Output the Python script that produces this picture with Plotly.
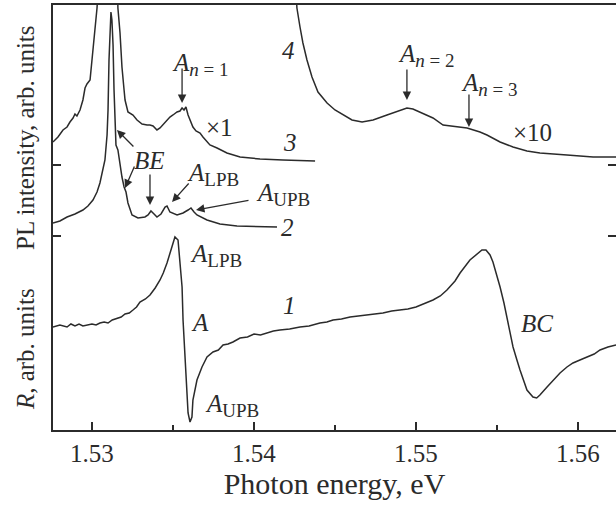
import plotly.graph_objects as go

# Photon energy (eV) and intensity (arb. units, all curves on one offset scale)
r_energy = [1.52759, 1.52802, 1.52846, 1.52870, 1.52895, 1.52920, 1.52944, 1.52975, 1.53000,
            1.53025, 1.53049, 1.53075, 1.53099, 1.53125, 1.53154, 1.53180, 1.53204, 1.53230,
            1.53253, 1.53275, 1.53296, 1.53330, 1.53358, 1.53390, 1.53420, 1.53440, 1.53463,
            1.53494, 1.53512, 1.53531, 1.53543, 1.53556, 1.53562, 1.53574, 1.53586, 1.53593,
            1.53605, 1.53617, 1.53623, 1.53648, 1.53679, 1.53710, 1.53747, 1.53780, 1.53809,
            1.53840, 1.53870, 1.53914, 1.53960, 1.54000, 1.54040, 1.54080, 1.54120, 1.54160,
            1.54220, 1.54284, 1.54340, 1.54407, 1.54450, 1.54488, 1.54540, 1.54593, 1.54650,
            1.54698, 1.54750, 1.54796, 1.54850, 1.54901, 1.54950, 1.55000, 1.55050, 1.55105,
            1.55150, 1.55191, 1.55241, 1.55272, 1.55333, 1.55377, 1.55407, 1.55432, 1.55457,
            1.55475, 1.55500, 1.55519, 1.55543, 1.55562, 1.55599, 1.55623, 1.55642, 1.55685,
            1.55722, 1.55745, 1.55765, 1.55809, 1.55846, 1.55889, 1.55932, 1.55969, 1.56012,
            1.56056, 1.56100, 1.56136, 1.56185, 1.56235]
r_signal = [103, 105, 103, 106, 104, 106, 104, 105, 106,
            105, 107, 108, 107, 110, 112, 113, 116, 117,
            120, 123, 128, 131, 135, 142, 150, 157, 167,
            183, 193, 190, 170, 143, 110, 77, 43, 17,
            8, 13, 30, 50, 63, 73, 78, 80, 85,
            86, 88, 92, 93, 96, 95, 97, 99, 100,
            101, 103, 104, 107, 108, 110, 111, 113, 114,
            115, 116, 117, 119, 120, 121, 123, 126, 130,
            134, 140, 149, 157, 170, 176, 180, 180, 175,
            168, 155, 143, 127, 113, 83, 70, 60, 40,
            33, 32, 35, 43, 50, 57, 63, 67, 70,
            73, 76, 80, 83, 85]

pl1_energy = [1.52759, 1.52802, 1.52846, 1.52895, 1.52944, 1.52975, 1.53006, 1.53031, 1.53049,
              1.53068, 1.53080, 1.53093, 1.53099, 1.53105, 1.53111, 1.53117, 1.53123, 1.53130,
              1.53136, 1.53142, 1.53148, 1.53160, 1.53173, 1.53185, 1.53198, 1.53210, 1.53222,
              1.53247, 1.53284, 1.53327, 1.53346, 1.53364, 1.53383, 1.53401, 1.53426, 1.53451,
              1.53463, 1.53481, 1.53525, 1.53562, 1.53593, 1.53611, 1.53630, 1.53648, 1.53710,
              1.53790, 1.53895, 1.54037, 1.54142]
pl1_signal = [207, 209, 213, 216, 220, 224, 230, 238, 247,
              262, 270, 295, 320, 370, 405, 418, 410, 385,
              340, 300, 285, 280, 265, 253, 243, 238, 227,
              215, 212, 213, 215, 219, 216, 213, 216, 223,
              224, 218, 215, 217, 220, 222, 218, 215, 210,
              206, 204, 203, 203]

pl2_energy = [1.52759, 1.52790, 1.52821, 1.52846, 1.52864, 1.52883, 1.52895, 1.52907, 1.52926,
              1.52944, 1.52957, 1.52969, 1.52988, 1.53000, 1.53012, 1.53025, 1.53031, 1.53049,
              1.53117, 1.53154, 1.53160, 1.53173, 1.53185, 1.53198, 1.53204, 1.53222, 1.53253,
              1.53278, 1.53309, 1.53340, 1.53358, 1.53377, 1.53401, 1.53420, 1.53438, 1.53463,
              1.53481, 1.53500, 1.53525, 1.53543, 1.53556, 1.53568, 1.53580, 1.53593, 1.53605,
              1.53623, 1.53642, 1.53667, 1.53685, 1.53710, 1.53728, 1.53772, 1.53833, 1.53914,
              1.54037, 1.54179, 1.54377]
pl2_signal = [288, 293, 300, 303, 308, 312, 316, 314, 320,
              330, 342, 346, 350, 370, 390, 410, 422, 470,
              580, 470, 422, 397, 363, 340, 330, 318, 315,
              310, 306, 305, 305, 304, 300, 302, 305, 310,
              313, 315, 318, 319, 322, 320, 323, 315, 310,
              303, 299, 297, 293, 288, 285, 282, 277, 273,
              271, 270, 269]

pl10_energy = [1.54259, 1.54265, 1.54284, 1.54302, 1.54327, 1.54358, 1.54395, 1.54451, 1.54500,
               1.54549, 1.54605, 1.54667, 1.54735, 1.54821, 1.54901, 1.54944, 1.54981, 1.55025,
               1.55105, 1.55167, 1.55210, 1.55315, 1.55395, 1.55438, 1.55519, 1.55599, 1.55685,
               1.55765, 1.55932, 1.56093, 1.56235]
pl10_signal = [440, 422, 403, 387, 370, 353, 338, 327, 320,
               315, 310, 308, 310, 315, 320, 322, 321, 318,
               312, 305, 304, 302, 298, 295, 288, 283, 279,
               277, 275, 273, 273]

curves = [(r_energy, r_signal), (pl1_energy, pl1_signal),
          (pl2_energy, pl2_signal), (pl10_energy, pl10_signal)]

INK = "#2b2b2b"
FONT = "Liberation Serif, Times New Roman, serif"


def sub(s):
    return f"<sub><span style='font-size:19px'>{s}</span></sub>"


fig = go.Figure()
for xs, ys in curves:
    fig.add_scatter(x=xs, y=ys, mode="lines", line={"color": INK, "width": 1.5},
                    showlegend=False, hoverinfo="skip")

# text labels: (x, y, text)
labels = [
    (1.54210, 380, "<i>4</i>"),
    (1.54222, 288, "<i>3</i>"),
    (1.54204, 203, "<i>2</i>"),
    (1.54222, 125, "<i>1</i>"),
    (1.53790, 303, "×1"),
    (1.55722, 298, "×10"),
    (1.53667, 366, "<i>A</i>" + sub("<i>n</i> = 1")),
    (1.55062, 375, "<i>A</i>" + sub("<i>n</i> = 2")),
    (1.55451, 346, "<i>A</i>" + sub("<i>n</i> = 3")),
    (1.53358, 270, "<i>BE</i>"),
    (1.53747, 256, "<i>A</i>" + sub("LPB")),
    (1.54179, 236, "<i>A</i>" + sub("UPB")),
    (1.53765, 175, "<i>A</i>" + sub("LPB")),
    (1.53667, 108, "<i>A</i>"),
    (1.53864, 25, "<i>A</i>" + sub("UPB")),
    (1.55747, 107, "<i>BC</i>"),
]
for x, y, t in labels:
    fig.add_annotation(x=x, y=y, text=t, showarrow=False,
                       xanchor="center", yanchor="middle",
                       font={"family": FONT, "size": 25, "color": INK})

# arrows: head (x, y) and tail offset in pixels
arrows = [
    (1.53556, 327, 0, -36),
    (1.54944, 330, 0, -32),
    (1.55327, 303, 0, -34),
    (1.53154, 300, 18, 18),
    (1.53204, 242, 10, -23),
    (1.53358, 225, 0, -32),
    (1.53494, 228, 18, -20),
    (1.53642, 220, 54, -10),
]
for x, y, ax, ay in arrows:
    fig.add_annotation(x=x, y=y, ax=ax, ay=ay, text="", showarrow=True,
                       arrowhead=2, arrowsize=1.3, arrowwidth=1.3,
                       arrowcolor=INK, standoff=0)

for y, t in [(0.689, "PL intensity, arb. units"), (0.19, "<i>R</i>, arb. units")]:
    fig.add_annotation(xref="paper", yref="paper", x=-0.05, y=y, text=t,
                       textangle=-90, showarrow=False,
                       xanchor="center", yanchor="middle",
                       font={"family": FONT, "size": 25, "color": INK})

fig.update_layout(
    width=616, height=505,
    margin={"l": 53, "r": 0, "t": 5, "b": 75, "autoexpand": False},
    paper_bgcolor="white", plot_bgcolor="white",
    font={"family": FONT, "size": 25, "color": INK},
    xaxis={
        "range": [1.527593, 1.562346],
        "tickvals": [1.53, 1.54, 1.55, 1.56],
        "ticktext": ["1.53", "1.54", "1.55", "1.56"],
        "ticks": "inside", "ticklen": 8, "tickwidth": 1.5, "tickcolor": INK,
        "minor": {"dtick": 0.005, "tick0": 1.525, "ticks": "inside", "ticklen": 5,
                  "tickwidth": 1.5, "tickcolor": INK},
        "showline": True, "linecolor": INK, "linewidth": 2, "mirror": True,
        "showgrid": False, "zeroline": False,
        "title": {"text": "Photon energy, eV", "standoff": 4},
    },
    yaxis={
        "range": [0, 425],
        "tickvals": [194, 265],
        "showticklabels": False,
        "ticks": "inside", "ticklen": 8, "tickwidth": 1.5, "tickcolor": INK,
        "showline": True, "linecolor": INK, "linewidth": 2, "mirror": "ticks",
        "showgrid": False, "zeroline": False,
    },
)

fig.write_html(
    "out.html",
    config={"displayModeBar": False},
    post_script="document.body.style.margin='0';document.body.style.overflow='hidden';",
)
